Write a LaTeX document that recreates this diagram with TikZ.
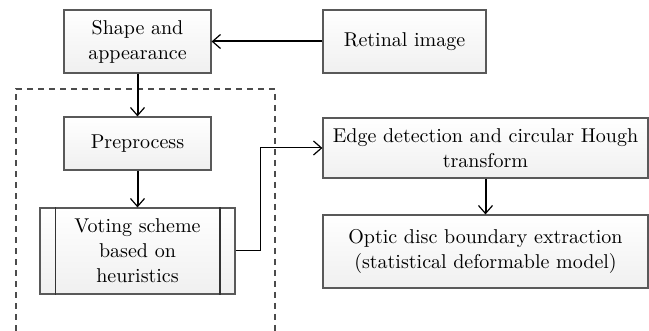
\documentclass[tikz,border=0pt]{standalone}
\usetikzlibrary{arrows.meta}
\begin{document}
\begin{tikzpicture}[x=0.5pt,y=-0.5pt]
%  \draw [step=20,color=gray] (0,0) grid (649,331);
  \useasboundingbox (0,0) rectangle (649,331);
  \tikzstyle {every node}=[draw=black!65,line width=0.6pt,top color=white,bottom color=black!6,
                           align=center,inner sep=2pt,font=\fontsize{10}{12.5}\selectfont];
  \tikzstyle {flow}=[line width=1pt,-{Straight Barb[length=4pt,width=7pt,line width=0.6pt]}];
  \path (137.5,41.5) node[minimum width=73.5pt,minimum height=31.5pt] (shape) {Shape and\\appearance};
  \path (404.5,41.5) node[minimum width=81.5pt,minimum height=31.5pt] (retina) {Retinal image};
  \path (137.5,143.5) node[minimum width=73.5pt,minimum height=26.5pt] (prep) {Preprocess};
  \path (137.5,251) node[minimum width=97.5pt,minimum height=43pt] (vote) {Voting scheme\\based on\\heuristics};
  \path (485.5,148) node[minimum width=162.5pt,minimum height=30pt] (edge) {Edge detection and circular Hough\\transform};
  \path (485.5,251.5) node[minimum width=162.5pt,minimum height=36.5pt] (optic) {Optic disc boundary extraction\\(statistical deformable model)};

  \draw [black!80,line width=0.9pt] ([xshift=8pt]vote.north west) -- ([xshift=8pt]vote.south west)
        ([xshift=-8pt]vote.north east) -- ([xshift=-8pt]vote.south east);
  \draw [black!70,line width=0.6pt,dash pattern=on 3pt off 2.5pt] (16,331) -- (16,89) -- (275,89) -- (275,331);

  \draw [flow] (retina) -- (shape);
  \draw [flow] (shape) -- (prep);
  \draw [flow] (prep) -- (vote);
  \draw [flow,line width=0.5pt] (vote.east) -- (260,251) |- (edge.west);
  \draw [flow] (edge) -- (optic);
\end{tikzpicture}
\end{document}
